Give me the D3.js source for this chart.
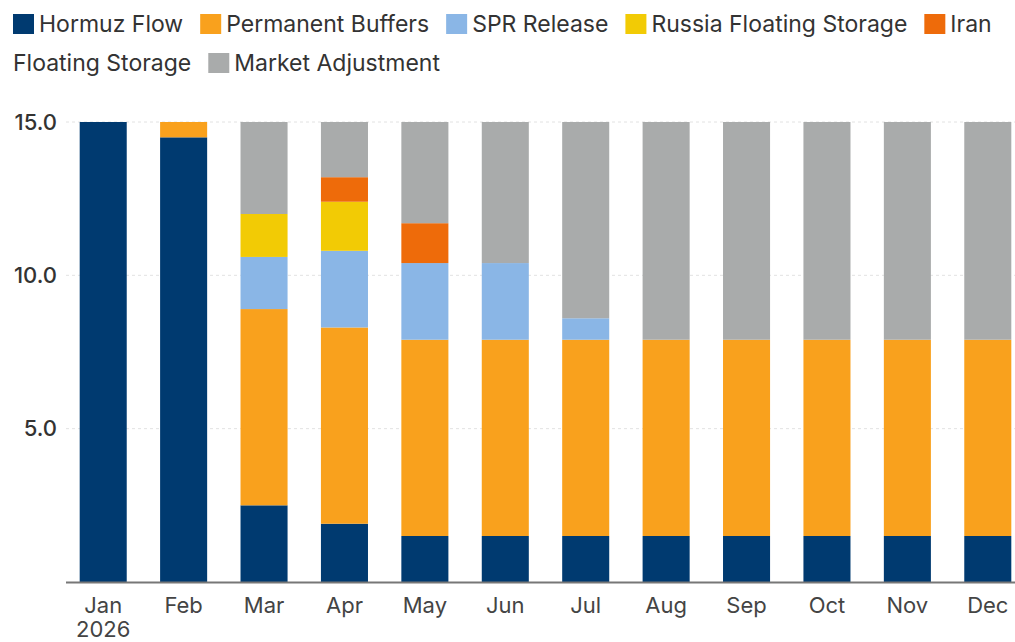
<!DOCTYPE html>
<html><head><meta charset="utf-8">
<script src="https://cdn.jsdelivr.net/npm/d3@7"></script>
<style>body{margin:0;background:#fff;}svg{display:block;font-family:Inter,"Noto Sans",sans-serif;}</style>
</head><body><svg id="c" width="1015" height="642"></svg>
<script>
const months = ["Jan","Feb","Mar","Apr","May","Jun","Jul","Aug","Sep","Oct","Nov","Dec"];
const seriesNames = ["Hormuz Flow","Permanent Buffers","SPR Release","Russia Floating Storage","Iran Floating Storage","Market Adjustment"];
const seriesColors = ["#003a70","#f9a11d","#8ab6e6","#f2cb05","#ee6b0a","#a9abab"];
const hormuzFlow       = [15, 14.5, 2.5, 1.9, 1.5, 1.5, 1.5, 1.5, 1.5, 1.5, 1.5, 1.5];
const permanentBuffers = [0, 0.5, 6.4, 6.4, 6.4, 6.4, 6.4, 6.4, 6.4, 6.4, 6.4, 6.4];
const sprRelease       = [0, 0, 1.7, 2.5, 2.5, 2.5, 0.7, 0, 0, 0, 0, 0];
const russiaFloating   = [0, 0, 1.4, 1.6, 0, 0, 0, 0, 0, 0, 0, 0];
const iranFloating     = [0, 0, 0, 0.8, 1.3, 0, 0, 0, 0, 0, 0, 0];
const marketAdjustment = [0, 0, 3.0, 1.8, 3.3, 4.6, 6.4, 7.1, 7.1, 7.1, 7.1, 7.1];
const yTicks = [5, 10, 15];

const seriesValues = [hormuzFlow, permanentBuffers, sprRelease, russiaFloating, iranFloating, marketAdjustment];
const table = months.map((m, i) => {
  const row = {month: m};
  seriesNames.forEach((s, j) => row[s] = seriesValues[j][i]);
  return row;
});

const FONT = "Inter,'Noto Sans',sans-serif";
const svg = d3.select("#c");
const x = d3.scaleBand().domain(months).range([63, 1028]).paddingInner(0.415).paddingOuter(0.2075);
const y = d3.scaleLinear().domain([0, 15]).range([582, 122]);

// gridlines
svg.append("g").selectAll("line").data(yTicks).join("line")
  .attr("x1", 66).attr("x2", 1015).attr("y1", d => y(d)).attr("y2", d => y(d))
  .attr("stroke", "#e2e2e2").attr("stroke-width", 1).attr("stroke-dasharray", "3,3");

// bars
const stack = d3.stack().keys(seriesNames)(table);
const color = d3.scaleOrdinal().domain(seriesNames).range(seriesColors);
svg.append("g").selectAll("g").data(stack).join("g").attr("fill", d => color(d.key))
  .selectAll("rect").data(d => d.filter(p => p[1] - p[0] > 0)).join("rect")
  .attr("x", d => x(d.data.month)).attr("width", x.bandwidth())
  .attr("y", d => y(d[1])).attr("height", d => y(d[0]) - y(d[1]));

// y axis labels
const yAxis = svg.append("g").attr("transform", "translate(57,0)")
  .call(d3.axisLeft(y).tickValues(yTicks).tickFormat(d3.format(".1f")).tickSize(0).tickPadding(0));
yAxis.select(".domain").remove();
yAxis.selectAll("text").attr("font-size", 22).attr("fill", "#333").attr("font-family", FONT).attr("font-weight", 500);

// x axis
const xAxis = svg.append("g").attr("transform", "translate(0,582)")
  .call(d3.axisBottom(x).tickSize(0).tickPadding(15));
xAxis.select(".domain").attr("d", "M66,0.5H1015").attr("stroke", "#777").attr("stroke-width", 2);
xAxis.selectAll("text").attr("font-size", 22).attr("fill", "#444").attr("font-family", FONT);
xAxis.selectAll(".tick").filter(d => d === "Jan").append("text")
  .attr("y", 39).attr("dy", "0.71em").attr("text-anchor", "middle")
  .attr("font-size", 22).attr("fill", "#444").attr("font-family", FONT).text("2026");

// legend with word flow
const lg = svg.append("g");
const fs = 23, maxX = 1005, rowH = 39, sw = 21;
let cx = 13, cy = 24;
const measure = lg.append("text").attr("font-size", fs).attr("visibility", "hidden");
function tw(s){ measure.text(s); return measure.node().getComputedTextLength(); }
const spaceW = tw("a b") - tw("ab");
seriesNames.forEach((name, i) => {
  const words = name.split(" ");
  if (cx + sw + 5 + tw(words[0]) > maxX) { cx = 13; cy += rowH; }
  lg.append("rect").attr("x", cx).attr("y", cy - 10).attr("width", sw).attr("height", 20).attr("fill", seriesColors[i]);
  cx += sw + 5;
  words.forEach((w, k) => {
    const ww = tw(w);
    if (k > 0) {
      if (cx + spaceW + ww > maxX) { cx = 13; cy += rowH; }
      else cx += spaceW;
    }
    lg.append("text").attr("x", cx).attr("y", cy).attr("dy", "0.35em").attr("font-size", fs).attr("fill", "#333").text(w);
    cx += ww;
  });
  cx += 17;
});
measure.remove();
</script></body></html>
